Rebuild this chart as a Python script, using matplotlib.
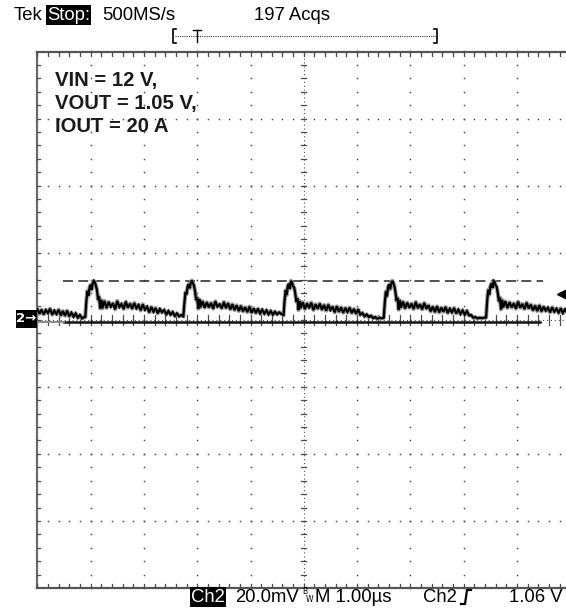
import numpy as np
import matplotlib
matplotlib.use("Agg")
import matplotlib.pyplot as plt
from matplotlib.patches import Rectangle
from matplotlib.lines import Line2D

W, H = 566, 611

# scope settings (1 us/div, 20 mV/div)
us_per_div = 1.0
mv_per_div = 20.0
peak_level_mv = 11.6
trigger_marker_mv = 7.6
dash_start_us, dash_end_us = 0.48, 9.49

# output ripple trace (time in us, ripple in mV)
time_us = [
    0.00, 0.04, 0.08, 0.12, 0.16, 0.20, 0.24, 0.28, 0.32, 0.36, 0.40, 0.44,
    0.48, 0.52, 0.56, 0.60, 0.64, 0.68, 0.72, 0.76, 0.80, 0.84, 0.88,
    0.90, 0.92, 0.94, 0.96, 0.98, 1.00, 1.02, 1.04, 1.06, 1.08, 1.10, 1.12,
    1.14, 1.16, 1.18, 1.20, 1.22,
    1.26, 1.30, 1.34, 1.38, 1.42, 1.46, 1.50, 1.54, 1.58, 1.62, 1.66, 1.70,
    1.74, 1.78, 1.82, 1.86, 1.90, 1.94, 1.98, 2.02, 2.06, 2.10, 2.14, 2.18,
    2.22, 2.26, 2.30, 2.34, 2.38, 2.42, 2.46, 2.50, 2.54, 2.58, 2.62, 2.66, 2.70,
    2.74, 2.76, 2.78, 2.80, 2.82, 2.84, 2.86, 2.88, 2.90, 2.92, 2.94, 2.96,
    2.98, 3.00, 3.02, 3.04, 3.06,
    3.10, 3.14, 3.18, 3.22, 3.26, 3.30, 3.34, 3.38, 3.42, 3.46, 3.50, 3.54,
    3.58, 3.62, 3.66, 3.70, 3.74, 3.78, 3.82, 3.86, 3.90, 3.94, 3.98, 4.02,
    4.06, 4.10, 4.14, 4.18, 4.22, 4.26, 4.30, 4.34, 4.38, 4.42, 4.46, 4.50,
    4.54, 4.58,
    4.62, 4.64, 4.66, 4.68, 4.70, 4.72, 4.74, 4.76, 4.78, 4.80, 4.82, 4.84,
    4.86, 4.88, 4.90, 4.92, 4.94,
    4.98, 5.02, 5.06, 5.10, 5.14, 5.18, 5.22, 5.26, 5.30, 5.34, 5.38, 5.42,
    5.46, 5.50, 5.54, 5.58, 5.62, 5.66, 5.70, 5.74, 5.78, 5.82, 5.86, 5.90,
    5.94, 5.98, 6.02, 6.06, 6.10, 6.14, 6.18, 6.22, 6.26, 6.30, 6.34, 6.38,
    6.42, 6.46,
    6.50, 6.52, 6.54, 6.56, 6.58, 6.60, 6.62, 6.64, 6.66, 6.68, 6.70, 6.72,
    6.74, 6.76, 6.78, 6.80, 6.82,
    6.86, 6.90, 6.94, 6.98, 7.02, 7.06, 7.10, 7.14, 7.18, 7.22, 7.26, 7.30,
    7.34, 7.38, 7.42, 7.46, 7.50, 7.54, 7.58, 7.62, 7.66, 7.70, 7.74, 7.78,
    7.82, 7.86, 7.90, 7.94, 7.98, 8.02, 8.06, 8.10, 8.14, 8.18, 8.22, 8.26,
    8.30, 8.34, 8.38,
    8.42, 8.44, 8.46, 8.48, 8.50, 8.52, 8.54, 8.56, 8.58, 8.60, 8.62, 8.64,
    8.66, 8.68, 8.70, 8.72, 8.74,
    8.78, 8.82, 8.86, 8.90, 8.94, 8.98, 9.02, 9.06, 9.10, 9.14, 9.18, 9.22,
    9.26, 9.30, 9.34, 9.38, 9.42, 9.46, 9.50, 9.54, 9.58, 9.62, 9.66, 9.70,
    9.74, 9.78, 9.82, 9.86, 9.90, 9.94, 9.98,
]
ripple_mv = [
    3.2, 1.8, 3.0, 1.6, 2.9, 2.0, 3.3, 1.5, 2.7, 1.7, 3.0, 1.3,
    2.6, 1.2, 2.7, 1.0, 2.1, 0.9, 1.9, 0.6, 1.4, 0.4, 0.8,
    0.8, 5.5, 8.6, 7.2, 9.6, 10.4, 9.0, 10.9, 11.6, 11.2, 10.1, 8.8,
    6.0, 6.9, 3.4, 5.9, 3.4,
    5.6, 3.5, 5.3, 3.9, 4.9, 3.1, 5.6, 3.8, 4.7, 3.2, 5.4, 3.6,
    4.8, 3.3, 5.0, 3.4, 4.4, 2.8, 4.6, 3.0, 3.9, 2.2, 3.8, 2.4,
    3.5, 1.9, 3.2, 2.2, 2.9, 1.6, 2.6, 1.5, 2.3, 1.1, 1.9, 1.0, 1.4,
    1.0, 5.0, 8.2, 7.6, 9.9, 10.6, 9.4, 11.0, 11.7, 10.9, 10.2, 8.4,
    5.9, 6.6, 3.3, 6.1, 3.7,
    5.5, 3.6, 5.2, 3.7, 5.0, 3.3, 5.5, 3.9, 4.6, 3.4, 5.3, 3.5,
    4.9, 3.1, 4.6, 2.9, 4.3, 2.6, 4.1, 2.5, 3.7, 2.3, 3.9, 2.1,
    3.4, 2.0, 3.3, 1.9, 3.0, 1.8, 2.8, 1.6, 2.6, 1.5, 2.4, 1.6,
    2.2, 1.7,
    1.4, 5.8, 8.8, 7.4, 10.1, 10.7, 9.3, 11.6, 11.1, 10.0, 9.6, 7.8,
    5.4, 6.4, 2.9, 5.6, 3.5,
    5.2, 3.2, 4.9, 3.5, 5.1, 2.9, 4.6, 3.3, 4.8, 3.0, 4.4, 2.7,
    4.5, 2.9, 3.9, 2.2, 4.0, 2.4, 3.7, 2.1, 3.5, 2.3, 3.6, 2.0,
    3.2, 1.8, 3.1, 1.5, 2.0, 1.0, 1.6, 0.8, 1.2, 0.5, 0.8, 0.3,
    0.6, 0.4,
    0.6, 5.2, 8.4, 7.0, 9.7, 10.5, 9.1, 10.8, 11.6, 11.0, 10.0, 8.2,
    5.6, 6.5, 3.0, 5.8, 3.6,
    5.4, 3.4, 5.1, 3.6, 4.8, 3.2, 5.3, 3.5, 4.6, 3.1, 5.0, 3.3,
    4.3, 2.5, 3.9, 2.3, 4.0, 2.2, 3.6, 2.4, 3.8, 2.0, 3.3, 2.2,
    3.5, 1.9, 3.0, 1.7, 2.8, 1.5, 2.6, 1.3, 1.4, 0.6, 0.8, 0.4,
    0.6, 0.5, 0.6,
    0.7, 5.6, 8.9, 7.5, 10.0, 10.8, 9.5, 11.6, 11.3, 10.2, 9.8, 7.9,
    5.5, 6.6, 3.1, 5.9, 3.7,
    5.5, 3.5, 5.2, 3.7, 4.9, 3.3, 5.4, 3.6, 4.7, 3.2, 5.1, 3.4,
    4.5, 2.8, 4.2, 2.6, 4.3, 2.5, 3.9, 2.7, 3.6, 2.2, 3.7, 2.4,
    3.3, 2.1, 3.4, 2.0, 3.1, 2.2, 2.9,
]

# minimum envelope line under the trace
env_start_us, env_end_us, env_mv = 0.50, 9.43, -0.6

fig = plt.figure(figsize=(W / 100, H / 100), dpi=100)
left_px, right_px, top_px, bot_px = 37.3, 570.3, 51.5, 588.0
ax = fig.add_axes([left_px / W, (H - bot_px) / H, (right_px - left_px) / W, (bot_px - top_px) / H])
ax.set_xlim(0, 10 * us_per_div)
ax.set_ylim(-4 * mv_per_div, 4 * mv_per_div)
ax.axis("off")

gc = "#4a4a4a"
xs_minor = np.arange(0, 10.001, 0.2) * us_per_div
ys_minor = np.arange(-4, 4.001, 0.2) * mv_per_div

# graticule dots
for gx in [1, 2, 3, 4, 6, 7, 8, 9]:
    ax.plot(np.full_like(ys_minor, gx * us_per_div), ys_minor, ls="none", marker="s",
            ms=1.1, mec="none", mfc=gc, clip_on=False)
for gy in [-3, -2, -1, 1, 2, 3]:
    ax.plot(xs_minor, np.full_like(xs_minor, gy * mv_per_div), ls="none", marker="s",
            ms=1.1, mec="none", mfc=gc, clip_on=False)

# centre cross with ticks
ax.plot([5, 5], [-80, 80], ls=(0, (1, 2.5)), lw=0.8, color=gc)
ax.plot([0, 10], [0, 0], ls=(0, (1, 2.5)), lw=0.8, color=gc)
for y in ys_minor:
    ax.plot([4.95, 5.05], [y, y], lw=0.9, color=gc)
for x in xs_minor:
    ax.plot([x, x], [-1.5, 1.5], lw=0.9, color=gc)

# border and border ticks
ax.plot([0, 0], [-80, 80], lw=1.6, color="#6a6a6a", clip_on=False)
ax.plot([0, 10.2], [80, 80], lw=1.6, color="#555555", clip_on=False)
ax.plot([0, 10.2], [-80, -80], lw=1.6, color="#555555", clip_on=False)
for x in xs_minor:
    ax.plot([x, x], [80, 78.8], lw=0.9, color=gc)
    ax.plot([x, x], [-80, -78.8], lw=0.9, color=gc)
for y in ys_minor:
    ax.plot([0, 0.06], [y, y], lw=0.9, color=gc)

# peak level dashed line
ax.plot([dash_start_us, dash_end_us], [peak_level_mv, peak_level_mv], color="#222222",
        lw=1.1, dashes=(6.5, 3.5))

# envelope + trace (grey persistence under the black trace)
ax.plot([env_start_us, env_end_us], [env_mv, env_mv], color="#111111", lw=1.8)
ax.plot([0, env_start_us], [env_mv, env_mv], color="#888888", lw=1.4)
ax.plot(time_us, ripple_mv, color="#9a9a9a", lw=3.0, solid_joinstyle="round")
ax.plot(time_us, ripple_mv, color="black", lw=1.6, solid_joinstyle="miter")

# trigger level marker on the right
ax.plot([9.88], [trigger_marker_mv], marker="<", ms=10, color="black", clip_on=False)


def fx(px):
    return px / W


def fy(py):
    return 1 - py / H


tek = dict(family="Liberation Sans", fontsize=13.3, color="black")
box = dict(boxstyle="square,pad=0.08", fc="black", ec="none")

# top status line
fig.text(fx(14), fy(15), "Tek", va="center", ha="left", **tek)
fig.text(fx(47), fy(15), "Stop:", va="center", ha="left", color="white",
         family="Liberation Sans", fontsize=13.3, bbox=box)
fig.text(fx(102), fy(15), "500MS/s", va="center", ha="left", **tek)
fig.text(fx(254), fy(15), "197 Acqs", va="center", ha="left", **tek)

# record bracket
fig.add_artist(Line2D([fx(175), fx(436)], [fy(36), fy(36)], ls=(0, (1, 1)), lw=0.8, color="#333333"))
for bx, sgn in [(173, 1), (437, -1)]:
    fig.add_artist(Line2D([fx(bx + 3 * sgn), fx(bx), fx(bx), fx(bx + 3 * sgn)],
                          [fy(29), fy(29), fy(43), fy(43)], lw=1.2, color="black"))
fig.add_artist(Line2D([fx(193), fx(201)], [fy(30), fy(30)], lw=1.0, color="black"))
fig.add_artist(Line2D([fx(197), fx(197)], [fy(30), fy(42)], lw=1.0, color="black"))

# annotation block
note = dict(family=["Liberation Sans", "DejaVu Sans"], fontweight="bold", fontsize=14.6, color="#1a1a1a")
fig.text(fx(55), fy(86), "VIN = 12 V,", va="baseline", ha="left", **note)
fig.text(fx(55), fy(109), "VOUT = 1.05 V,", va="baseline", ha="left", **note)
fig.text(fx(55), fy(132), "IOUT = 20 A", va="baseline", ha="left", **note)

# channel marker on the left
fig.add_artist(Rectangle((fx(16), fy(328)), fx(37) - fx(16), fy(310) - fy(328), fc="black", ec="none"))
fig.text(fx(26.5), fy(319), "2→", va="center", ha="center", color="white",
         family="DejaVu Sans", fontweight="bold", fontsize=9.5)

# bottom status line
yb = fy(597)
fig.text(fx(191), yb, "Ch2", va="center", ha="left", color="white", family="Liberation Sans",
         fontsize=13.3, bbox=box)
fig.text(fx(235), yb, "20.0mV", va="center", ha="left", **tek)
fig.text(fx(302.5), fy(592), "B", va="center", ha="left", family="DejaVu Sans", fontsize=5.5)
fig.text(fx(306), fy(599), "W", va="center", ha="left", family="DejaVu Sans", fontsize=5.5)
fig.text(fx(315), yb, "M 1.00µs", va="center", ha="left", **tek)
fig.text(fx(423), yb, "Ch2", va="center", ha="left", **tek)
fig.add_artist(Line2D([fx(461), fx(465), fx(467), fx(471)], [fy(604), fy(604), fy(590), fy(590)],
                      lw=1.6, color="black"))
fig.text(fx(563), yb, "1.06 V", va="center", ha="right", **tek)

fig.savefig("out.png", dpi=100, facecolor="white")
